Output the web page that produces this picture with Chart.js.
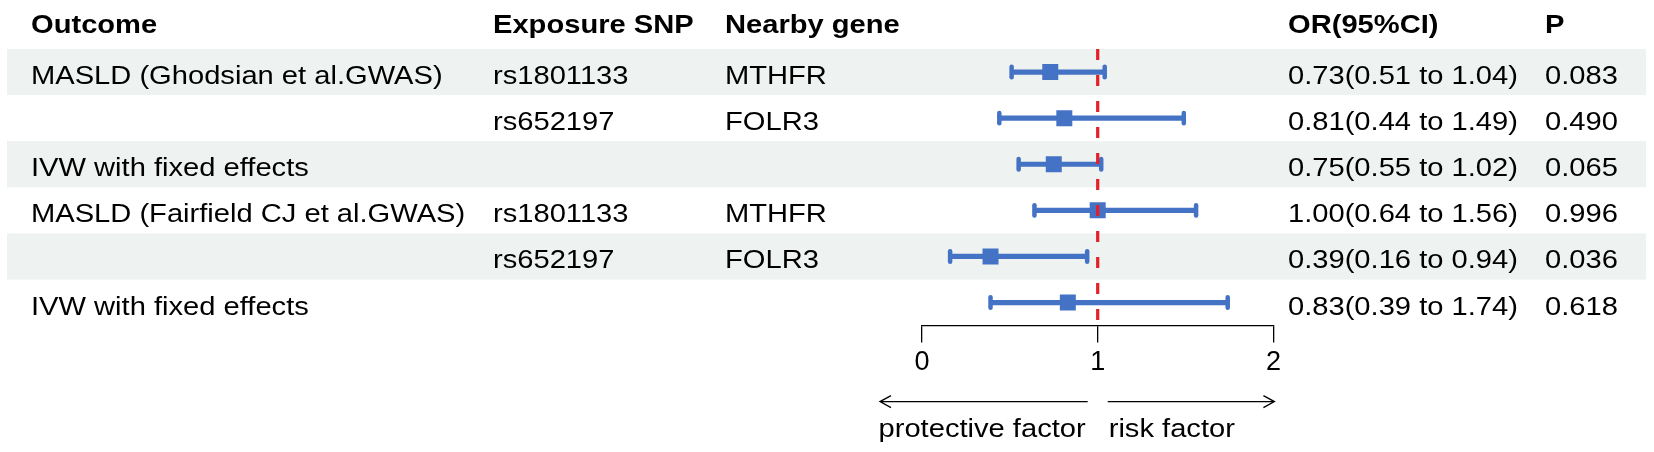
<!DOCTYPE html>
<html>
<head>
<meta charset="utf-8">
<script src="https://cdn.jsdelivr.net/npm/chart.js@4.4.1/dist/chart.umd.min.js"></script>
<style>
html,body{margin:0;padding:0;background:#fff;}
#wrap{width:1654px;height:452px;position:relative;}
</style>
</head>
<body>
<div id="wrap"><canvas id="c"></canvas></div>
<script>
// ---- data ----
const headers = ['Outcome', 'Exposure SNP', 'Nearby gene', 'OR(95%CI)', 'P'];
const outcomes = ['MASLD (Ghodsian et al.GWAS)', '', 'IVW with fixed effects', 'MASLD (Fairfield CJ et al.GWAS)', '', 'IVW with fixed effects'];
const snps = ['rs1801133', 'rs652197', '', 'rs1801133', 'rs652197', ''];
const genes = ['MTHFR', 'FOLR3', '', 'MTHFR', 'FOLR3', ''];
const orValues = [0.73, 0.81, 0.75, 1.00, 0.39, 0.83];
const ciLow = [0.51, 0.44, 0.55, 0.64, 0.16, 0.39];
const ciHigh = [1.04, 1.49, 1.02, 1.56, 0.94, 1.74];
const pValues = ['0.083', '0.490', '0.065', '0.996', '0.036', '0.618'];
const xTicks = [0, 1, 2];
const directionLabels = ['protective factor', 'risk factor'];

const rows = orValues.map((_, i) => i);
const orText = orValues.map((v, i) => v.toFixed(2) + '(' + ciLow[i].toFixed(2) + ' to ' + ciHigh[i].toFixed(2) + ')');

const FONT = '"Liberation Sans", Arial, Helvetica, sans-serif';
const BLUE = '#4472C4';
const RED = '#e41f26';
const colX = [31, 493, 725, 1288, 1545];

function sText(ctx, text, x, y, bold, align) {
  ctx.save();
  ctx.translate(x, y);
  ctx.scale(1.12, 1);
  ctx.font = (bold ? 'bold ' : '') + '26px ' + FONT;
  ctx.textAlign = align || 'left';
  ctx.textBaseline = 'alphabetic';
  ctx.fillStyle = '#000';
  ctx.fillText(text, 0, 0);
  ctx.restore();
}

const forestPlugin = {
  id: 'forest',
  beforeDatasetsDraw(chart) {
    const ctx = chart.ctx, y = chart.scales.y;
    ctx.save();
    ctx.fillStyle = '#eef2f0';
    rows.forEach(i => {
      if (i % 2 === 0) {
        const t = y.getPixelForValue(i - 0.5), b = y.getPixelForValue(i + 0.5);
        ctx.fillRect(7, t, 1639, b - t);
      }
    });
    ctx.restore();
  },
  beforeDatasetDraw(chart, args) {
    if (args.index === 1) chart.ctx.lineCap = 'round';
  },
  afterDatasetDraw(chart, args) {
    const ctx = chart.ctx;
    if (args.index === 1) ctx.lineCap = 'butt';
    if (args.index === 0) {
      const x = chart.scales.x.getPixelForValue(1);
      const ca = chart.chartArea;
      ctx.save();
      ctx.strokeStyle = RED;
      ctx.lineWidth = 3.2;
      ctx.setLineDash([11, 15]);
      ctx.beginPath();
      ctx.moveTo(x, ca.top);
      ctx.lineTo(x, ca.bottom);
      ctx.stroke();
      ctx.restore();
    }
  },
  afterDraw(chart) {
    const ctx = chart.ctx, y = chart.scales.y, xs = chart.scales.x;
    headers.forEach((h, k) => sText(ctx, h, colX[k], 33, true));
    rows.forEach(i => {
      const yy = y.getPixelForValue(i) + 12;
      sText(ctx, outcomes[i], colX[0], yy);
      sText(ctx, snps[i], colX[1], yy);
      sText(ctx, genes[i], colX[2], yy);
      sText(ctx, orText[i], colX[3], yy);
      sText(ctx, pValues[i], colX[4], yy);
    });
    const x0 = xs.getPixelForValue(0), x1 = xs.getPixelForValue(1), x2 = xs.getPixelForValue(2);
    const base = chart.chartArea.bottom;
    const ay = base + 76;
    ctx.save();
    ctx.strokeStyle = '#000';
    ctx.lineWidth = 1.3;
    ctx.beginPath();
    const lTip = x0 - 42, rTip = x2 + 1;
    ctx.moveTo(x1 - 10, ay); ctx.lineTo(lTip, ay);
    ctx.moveTo(lTip + 11, ay - 6); ctx.lineTo(lTip, ay); ctx.lineTo(lTip + 11, ay + 6);
    ctx.moveTo(x1 + 10, ay); ctx.lineTo(rTip, ay);
    ctx.moveTo(rTip - 11, ay - 6); ctx.lineTo(rTip, ay); ctx.lineTo(rTip - 11, ay + 6);
    ctx.stroke();
    ctx.restore();
    sText(ctx, directionLabels[0], x1 - 12, base + 111, false, 'right');
    sText(ctx, directionLabels[1], x1 + 11, base + 111, false, 'left');
  }
};

new Chart(document.getElementById('c'), {
  data: {
    labels: rows,
    datasets: [
      {
        type: 'bar',
        indexAxis: 'y',
        data: ciLow.map((l, i) => [l, ciHigh[i]]),
        backgroundColor: BLUE,
        borderWidth: 0,
        barThickness: 4.5,
        xAxisID: 'x', yAxisID: 'y'
      },
      {
        type: 'scatter',
        data: rows.flatMap(i => [{x: ciLow[i], y: i}, {x: ciHigh[i], y: i}]),
        pointStyle: 'line',
        rotation: 90,
        radius: 5.2,
        borderWidth: 4.5,
        borderColor: BLUE,
        backgroundColor: BLUE,
        xAxisID: 'x', yAxisID: 'y'
      },
      {
        type: 'scatter',
        data: rows.map(i => ({x: orValues[i], y: i})),
        pointStyle: 'rect',
        radius: 11.3,
        borderWidth: 0,
        backgroundColor: BLUE,
        borderColor: BLUE,
        xAxisID: 'x', yAxisID: 'y'
      }
    ]
  },
  options: {
    responsive: true,
    maintainAspectRatio: false,
    animation: false,
    events: [],
    layout: { padding: { left: 922, right: 380.6, top: 49, bottom: 69 } },
    plugins: { legend: { display: false }, tooltip: { enabled: false } },
    scales: {
      x: {
        type: 'linear',
        position: 'bottom',
        min: 0, max: 2,
        afterBuildTicks: (s) => { s.ticks = xTicks.map(v => ({value: v})); },
        grid: { display: true, drawOnChartArea: false, drawTicks: true, tickLength: 17, color: '#000', lineWidth: 1.3 },
        border: { display: true, color: '#000', width: 1.3 },
        ticks: { color: '#000', font: { family: FONT, size: 27 }, padding: 4, maxRotation: 0, autoSkip: false }
      },
      y: {
        type: 'category',
        display: false,
        offset: true,
        grid: { display: false }
      }
    }
  },
  plugins: [forestPlugin]
});
</script>
</body>
</html>
